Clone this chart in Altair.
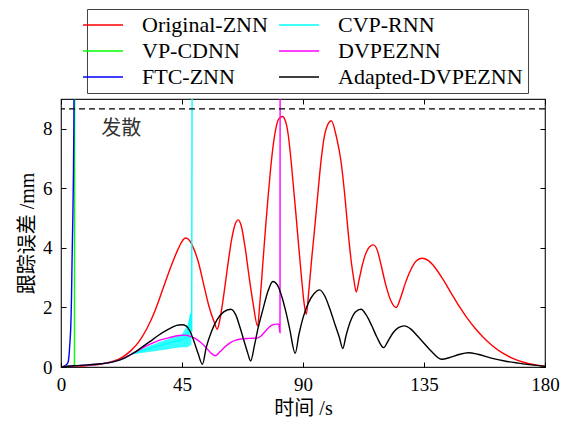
import altair as alt
import pandas as pd

series_order = ["Original-ZNN", "VP-CDNN", "FTC-ZNN", "CVP-RNN", "DVPEZNN", "Adapted-DVPEZNN"]
series_colors = ["#ff0000", "#00ff00", "#0000ff", "#00ffff", "#ff00ff", "#000000"]

x_ticks = [0, 45, 90, 135, 180]
y_ticks = [0, 2, 4, 6, 8]

orig_t = [0, 5, 10, 15, 20, 23, 26, 29, 32, 35, 38, 41, 43.5, 45, 46.3, 47.5, 49, 51, 53, 55, 57, 58.1,
          59, 60.5, 62, 63.5, 64.8, 65.9, 67, 68.5, 70, 71.5, 73.1,
          74, 75, 76, 77, 78, 79, 80, 81, 82.3,
          83.5, 84.5, 85.6, 86.6, 87.5, 88.5, 89.5, 90.4, 91.2,
          92.2, 93.3, 94.3, 95.5, 96.8, 98.3, 100.5,
          102.5, 104.2, 105.5, 106.7, 108, 108.9, 109.8,
          110.8, 112, 113.3, 114.7, 116.2, 117.7, 119.1, 120.8, 122.8, 124.7,
          126.2, 128, 130, 132, 134.2, 136.5, 139, 142, 145, 148, 151, 154, 157, 160, 164, 168, 172,
          176, 180]
orig_e = [0, 0.02, 0.05, 0.1, 0.21, 0.34, 0.55, 0.85, 1.3, 1.9, 2.65, 3.4, 3.95, 4.22, 4.33, 4.28,
          4.05, 3.55, 2.8, 2.05, 1.5, 1.27,
          1.55, 2.4, 3.4, 4.3, 4.8, 4.94, 4.75, 4.0, 3.0, 2.1, 1.38,
          2.2, 3.4, 4.6, 5.7, 6.7, 7.5, 8.05, 8.33, 8.41,
          8.25, 7.8, 6.9, 5.9, 5.0, 3.95, 2.95, 2.15, 1.77,
          2.6, 3.7, 4.62, 5.8, 7.0, 7.9, 8.27,
          7.7, 6.86, 5.8, 4.62, 3.5, 2.94, 2.52,
          2.9, 3.4, 3.8, 4.03, 4.1, 3.9, 3.4, 2.75, 2.2, 2.0,
          2.3, 2.8, 3.25, 3.55, 3.65, 3.58, 3.35, 2.95, 2.5, 2.05, 1.65, 1.3, 1.0, 0.75, 0.48, 0.29,
          0.16, 0.08, 0.03]

vp_t = [0, 2, 4, 5.0, 5.1]
vp_e = [0, 0.02, 0.04, 0.06, 12]

ftc_t = [0, 1, 2, 2.6, 3.0, 3.3, 3.6, 3.9, 4.1, 4.4, 4.6, 4.8, 4.9]
ftc_e = [0, 0.02, 0.08, 0.15, 0.4, 0.8, 1.27, 2.3, 3.5, 5.0, 6.3, 8.3, 12]

cvp_t = [0, 5, 10, 15, 17.5, 20, 23.7, 26, 30, 34, 38, 42, 45, 47, 48.3, 48.6, 48.8]
cvp_e = [0, 0.04, 0.07, 0.11, 0.14, 0.19, 0.3, 0.42, 0.55, 0.65, 0.75, 0.85, 0.92, 1.05, 1.8, 1.2, 12]

band_t = [26, 30, 34, 38, 42, 45, 47, 48.5]
band_lo = [0.42, 0.47, 0.52, 0.57, 0.63, 0.66, 0.66, 0.75]
band_hi = [0.48, 0.6, 0.75, 0.88, 1.0, 1.1, 1.4, 1.8]

dv_t = [0, 5, 10, 15, 17.5, 20, 23.7, 27, 29.9, 33, 36, 40, 44, 46, 48, 50, 52, 54, 56, 57.5, 59,
        61, 63, 65, 67, 70, 73, 74.5, 76, 78, 80, 81.0, 81.45, 81.5]
dv_e = [0, 0.04, 0.07, 0.11, 0.14, 0.19, 0.31, 0.47, 0.62, 0.76, 0.88, 0.98, 1.06, 1.07, 1.03, 0.95,
        0.82, 0.65, 0.45, 0.38, 0.5, 0.68, 0.82, 0.9, 0.94, 0.96, 0.97, 1.05, 1.2, 1.38, 1.44, 1.44,
        1.15, 12]

ad_t = [0, 5, 10, 15, 17.5, 20, 23.7, 27, 29.9, 33, 36, 40, 43, 45, 46.5, 48, 49.5, 51, 52.6, 54, 56,
        58, 60.5, 63.1, 65, 66.5, 68, 69.5, 70.5, 72, 73.2, 75, 77, 78.8, 80.5, 82, 83.5, 85, 87.1,
        88.5, 90, 92, 94, 96.2, 98, 100, 102, 103.5, 104.8, 106, 107.5, 109.5, 111.6, 113.5, 115.5,
        117.5, 120, 121.5, 123.5, 125.5, 127.7, 130, 132.5, 135, 138, 141.4, 145, 148, 151.5, 155,
        160, 165, 170, 175, 180]
ad_e = [0, 0.04, 0.07, 0.11, 0.14, 0.19, 0.31, 0.47, 0.65, 0.85, 1.05, 1.27, 1.4, 1.42, 1.38, 1.2,
        0.85, 0.45, 0.09, 0.65, 1.2, 1.58, 1.85, 1.94, 1.75, 1.35, 0.9, 0.45, 0.2, 0.75, 1.27, 1.9,
        2.55, 2.87, 2.75, 2.4, 1.9, 1.3, 0.46, 1.1, 1.65, 2.15, 2.45, 2.59, 2.4, 1.95, 1.4, 1.0, 0.62,
        1.05, 1.5, 1.85, 1.94, 1.75, 1.4, 1.0, 0.65, 0.85, 1.15, 1.32, 1.38, 1.28, 1.05, 0.8, 0.5,
        0.26, 0.33, 0.42, 0.48, 0.43, 0.3, 0.2, 0.13, 0.07, 0.02]

diverge_level = [8.67]
note_text = ["发散"]
note_pos = [(15, 8.0)]

series_data = {
    "Original-ZNN": (orig_t, orig_e),
    "VP-CDNN": (vp_t, vp_e),
    "FTC-ZNN": (ftc_t, ftc_e),
    "CVP-RNN": (cvp_t, cvp_e),
    "DVPEZNN": (dv_t, dv_e),
    "Adapted-DVPEZNN": (ad_t, ad_e),
}

SERIF = "Liberation Serif, Noto Sans CJK SC"
xscale = alt.Scale(domain=[0, 180], nice=False, zero=False)
yscale = alt.Scale(domain=[0, 9], nice=False, zero=False)

legend = alt.Legend(
    orient="none", legendX=26, legendY=-90, columns=2, title=None,
    symbolType="M-2,0H2", symbolSize=400, symbolStrokeWidth=1.5,
    labelFont="Liberation Serif", labelFontSize=22, labelColor="black", labelOffset=28,
    labelLimit=400, columnPadding=8, rowPadding=4, padding=5,
    strokeColor="#444444", fillColor="white",
)
color = alt.Color("s:N", scale=alt.Scale(domain=series_order, range=series_colors), legend=legend)

x_axis = alt.Axis(values=x_ticks, orient="bottom", offset=-5, tickSize=5, domain=False, grid=False,
                  labelFont=SERIF, labelFontSize=19, labelPadding=8, labelColor="black",
                  labelFlush=False, labelOverlap=False,
                  tickColor="black", title="时间 /s", titleFont=SERIF, titleFontSize=20,
                  titleFontWeight="normal", titleColor="black", titlePadding=4)
y_axis = alt.Axis(values=y_ticks, orient="left", offset=-5, tickSize=5, domain=False, grid=False,
                  labelFont=SERIF, labelFontSize=19, labelPadding=9, labelColor="black",
                  labelFlush=False, labelOverlap=False,
                  tickColor="black", title="跟踪误差 /mm", titleFont=SERIF, titleFontSize=20,
                  titleFontWeight="normal", titleColor="black", titlePadding=5)

layers = []
band_df = pd.DataFrame({"t": band_t, "lo": band_lo, "hi": band_hi})

first = True
for name in series_order:
    t, e = series_data[name]
    df = pd.DataFrame({"t": t, "e": e, "s": name})
    if name == "CVP-RNN":
        layers.append(
            alt.Chart(band_df).mark_area(color="#00ffff", opacity=0.8, clip=True).encode(
                x=alt.X("t:Q", scale=xscale, axis=None),
                y=alt.Y("lo:Q", scale=yscale, axis=None),
                y2="hi:Q",
            )
        )
    layers.append(
        alt.Chart(df).mark_line(strokeWidth=1.4, clip=True, interpolate="monotone").encode(
            x=alt.X("t:Q", scale=xscale, axis=x_axis if first else None),
            y=alt.Y("e:Q", scale=yscale, axis=y_axis if first else None),
            color=color,
        )
    )
    first = False

dash_df = pd.DataFrame({"y": diverge_level})
layers.append(
    alt.Chart(dash_df).mark_rule(color="black", strokeWidth=1.3, strokeDash=[6, 4]).encode(
        y=alt.Y("y:Q", scale=yscale, axis=None)
    )
)

note_df = pd.DataFrame({"x": [p[0] for p in note_pos], "y": [p[1] for p in note_pos], "txt": note_text})
layers.append(
    alt.Chart(note_df).mark_text(align="left", baseline="middle", font="Noto Sans CJK SC",
                                 fontSize=20, color="#333333").encode(
        x=alt.X("x:Q", scale=xscale, axis=None),
        y=alt.Y("y:Q", scale=yscale, axis=None),
        text="txt:N",
    )
)

mirror_df = pd.DataFrame({"x": [0], "y": [0]})
layers.append(
    alt.Chart(mirror_df).mark_point(opacity=0).encode(
        x=alt.X("x:Q", scale=xscale, axis=alt.Axis(values=x_ticks, orient="top", offset=-5, tickSize=5,
                                                   domain=False, grid=False, labels=False, title=None,
                                                   tickColor="black")),
        y=alt.Y("y:Q", scale=yscale, axis=alt.Axis(values=y_ticks, orient="right", offset=-5, tickSize=5,
                                                   domain=False, grid=False, labels=False, title=None,
                                                   tickColor="black")),
    )
)

chart = alt.layer(*layers).resolve_axis(x="independent", y="independent").properties(
    width=484, height=268, padding={"left": 9, "top": 0, "right": 2, "bottom": 5}
).configure_view(stroke="#222222", strokeWidth=1.2)

chart.save("out.html", embed_options={"renderer": "svg", "actions": False})
